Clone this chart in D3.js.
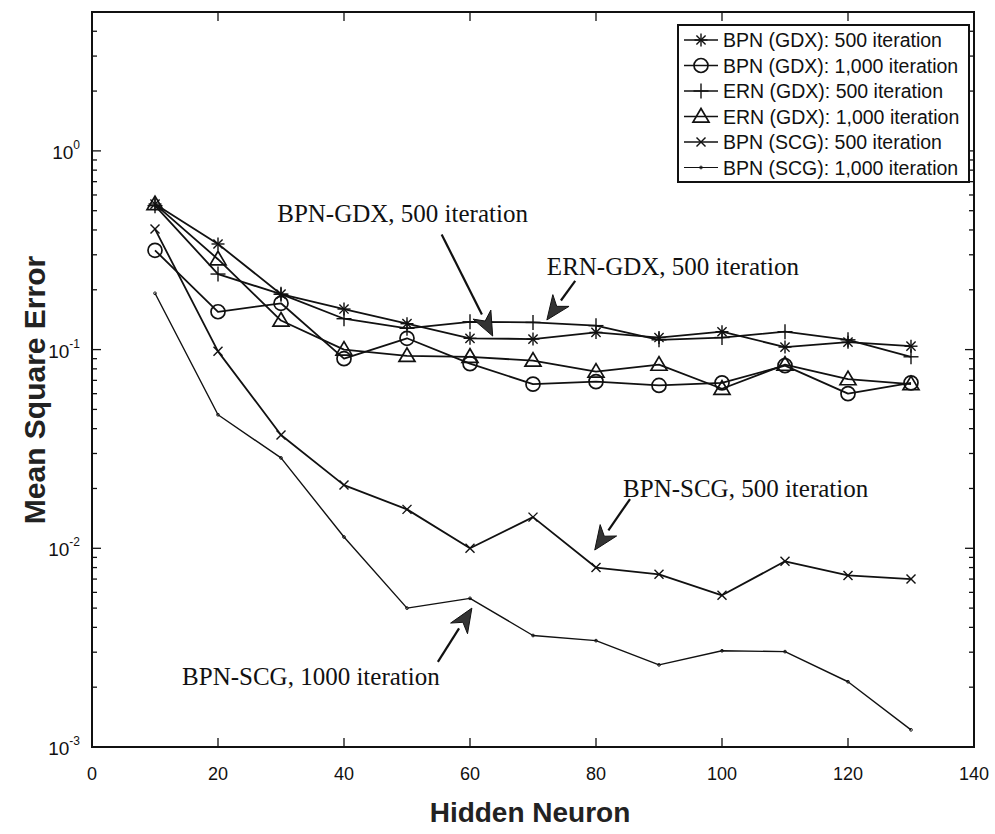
<!DOCTYPE html>
<html>
<head>
<meta charset="utf-8">
<script src="https://cdn.jsdelivr.net/npm/d3@7/dist/d3.min.js"></script>
<style>
  html, body { margin: 0; padding: 0; background: #fff; }
  svg { display: block; }
</style>
</head>
<body>
<svg id="chart" width="995" height="834"></svg>
<script>
// ---------------- data ----------------
const hiddenNeurons = [10, 20, 30, 40, 50, 60, 70, 80, 90, 100, 110, 120, 130];
const bpnGdx500  = [0.54, 0.34, 0.19, 0.16, 0.135, 0.114, 0.113, 0.122, 0.115, 0.123, 0.103, 0.109, 0.104];
const bpnGdx1000 = [0.316, 0.155, 0.171, 0.09, 0.114, 0.085, 0.067, 0.069, 0.066, 0.068, 0.083, 0.06, 0.068];
const ernGdx500  = [0.53, 0.24, 0.19, 0.143, 0.128, 0.138, 0.137, 0.132, 0.112, 0.115, 0.123, 0.112, 0.092];
const ernGdx1000 = [0.54, 0.285, 0.14, 0.1, 0.093, 0.092, 0.088, 0.0775, 0.084, 0.0635, 0.084, 0.071, 0.067];
const bpnScg500  = [0.404, 0.098, 0.0372, 0.0208, 0.0157, 0.0100, 0.01435, 0.0080, 0.0074, 0.0058, 0.0086, 0.0073, 0.0070];
const bpnScg1000 = [0.192, 0.047, 0.0285, 0.0114, 0.0050, 0.0056, 0.00364, 0.00343, 0.00259, 0.00305, 0.00302, 0.00213, 0.00122];

const seriesNames = [
  "BPN (GDX): 500 iteration",
  "BPN (GDX): 1,000 iteration",
  "ERN (GDX): 500 iteration",
  "ERN (GDX): 1,000 iteration",
  "BPN (SCG): 500 iteration",
  "BPN (SCG): 1,000 iteration"
];
const seriesMarkers = ["star", "circle", "plus", "triangle", "cross", "dot"];
const seriesValues = [bpnGdx500, bpnGdx1000, ernGdx500, ernGdx1000, bpnScg500, bpnScg1000];

const xTicks = [0, 20, 40, 60, 80, 100, 120, 140];
const yDecades = [-3, -2, -1, 0];
const xLabel = "Hidden Neuron";
const yLabel = "Mean Square Error";

// annotations: [text, textX, textY, arrowFromX, arrowFromY, arrowToX, arrowToY] in data units
const annotations = [
  ["BPN-GDX, 500 iteration", 29.4, 0.44, 55.5, 0.38, 63.6, 0.117],
  ["ERN-GDX, 500 iteration", 72.2, 0.238, 76.7, 0.222, 72.2, 0.141],
  ["BPN-SCG, 500 iteration", 84.3, 0.0182, 85.4, 0.0177, 79.8, 0.0098],
  ["BPN-SCG, 1000 iteration", 14.3, 0.00205, 54.9, 0.00268, 60.3, 0.0050]
];

// ---------------- layout ----------------
const L = 92, R = 974, T = 12, B = 747;
const svg = d3.select("#chart");
const x = d3.scaleLinear().domain([0, 140]).range([L, R]);
const y = d3.scaleLog().domain([1e-3, 5]).range([B, T]);

const ink = "#111";

// frame
svg.append("rect").attr("x", L).attr("y", T).attr("width", R - L).attr("height", B - T)
  .attr("fill", "none").attr("stroke", ink).attr("stroke-width", 2);

// x ticks (inward, top and bottom)
const gx = svg.append("g");
xTicks.forEach(t => {
  if (t > 0 && t < 140) {
    gx.append("line").attr("x1", x(t)).attr("x2", x(t)).attr("y1", B).attr("y2", B - 9).attr("stroke", ink).attr("stroke-width", 1.3);
    gx.append("line").attr("x1", x(t)).attr("x2", x(t)).attr("y1", T).attr("y2", T + 9).attr("stroke", ink).attr("stroke-width", 1.3);
  }
  gx.append("text").attr("x", x(t)).attr("y", B + 33)
    .attr("text-anchor", "middle").attr("font-family", "Arial, 'Liberation Sans', sans-serif")
    .attr("font-size", 18).attr("fill", ink).text(t);
});

// y ticks (log, inward, left and right)
const gy = svg.append("g");
const yTickVals = y.ticks();
yTickVals.forEach(v => {
  const lg = Math.log10(v);
  const major = Math.abs(lg - Math.round(lg)) < 1e-9;
  const len = major ? 9 : 5;
  gy.append("line").attr("x1", L).attr("x2", L + len).attr("y1", y(v)).attr("y2", y(v)).attr("stroke", ink).attr("stroke-width", 1.3);
  gy.append("line").attr("x1", R).attr("x2", R - len).attr("y1", y(v)).attr("y2", y(v)).attr("stroke", ink).attr("stroke-width", 1.3);
});
yDecades.forEach(d => {
  const t = gy.append("text").attr("x", 80).attr("y", y(Math.pow(10, d)) + 8)
    .attr("text-anchor", "end").attr("font-family", "Arial, 'Liberation Sans', sans-serif")
    .attr("font-size", 19).attr("fill", ink);
  t.append("tspan").text("10");
  t.append("tspan").attr("dy", -10).attr("font-size", 12).text(d === 0 ? "0" : "-" + Math.abs(d));
});

// axis titles
svg.append("text").attr("x", 530).attr("y", 822).attr("text-anchor", "middle")
  .attr("font-family", "Arial, 'Liberation Sans', sans-serif").attr("font-weight", "bold")
  .attr("font-size", 28).attr("fill", "#222").text(xLabel);
svg.append("text").attr("transform", "translate(45," + 390 + ") rotate(-90)").attr("text-anchor", "middle")
  .attr("font-family", "Arial, 'Liberation Sans', sans-serif").attr("font-weight", "bold")
  .attr("font-size", 30).attr("fill", "#222").text(yLabel);

// marker drawing
function drawMarker(g, type, cx, cy) {
  const s = ink;
  if (type === "star") {
    const r = 6.5;
    [0, 45, 90, 135].forEach(a => {
      const rad = a * Math.PI / 180;
      g.append("line").attr("x1", cx - r * Math.cos(rad)).attr("y1", cy - r * Math.sin(rad))
        .attr("x2", cx + r * Math.cos(rad)).attr("y2", cy + r * Math.sin(rad))
        .attr("stroke", s).attr("stroke-width", 1.4);
    });
  } else if (type === "circle") {
    g.append("circle").attr("cx", cx).attr("cy", cy).attr("r", 7).attr("fill", "none").attr("stroke", s).attr("stroke-width", 1.7);
  } else if (type === "plus") {
    const r = 7.5;
    g.append("line").attr("x1", cx - r).attr("x2", cx + r).attr("y1", cy).attr("y2", cy).attr("stroke", s).attr("stroke-width", 1.4);
    g.append("line").attr("x1", cx).attr("x2", cx).attr("y1", cy - r).attr("y2", cy + r).attr("stroke", s).attr("stroke-width", 1.4);
  } else if (type === "triangle") {
    const r = 8;
    g.append("path").attr("d", `M${cx},${cy - r}L${cx + r},${cy + r * 0.7}L${cx - r},${cy + r * 0.7}Z`)
      .attr("fill", "none").attr("stroke", s).attr("stroke-width", 1.7);
  } else if (type === "cross") {
    const r = 4.5;
    g.append("line").attr("x1", cx - r).attr("x2", cx + r).attr("y1", cy - r).attr("y2", cy + r).attr("stroke", s).attr("stroke-width", 1.4);
    g.append("line").attr("x1", cx - r).attr("x2", cx + r).attr("y1", cy + r).attr("y2", cy - r).attr("stroke", s).attr("stroke-width", 1.4);
  } else if (type === "dot") {
    g.append("circle").attr("cx", cx).attr("cy", cy).attr("r", 1.4).attr("fill", "none").attr("stroke", s).attr("stroke-width", 0.9);
  }
}

// series
const line = d3.line().x(d => x(d[0])).y(d => y(d[1]));
seriesValues.forEach((vals, i) => {
  const pts = hiddenNeurons.map((h, j) => [h, vals[j]]);
  const g = svg.append("g");
  g.append("path").attr("d", line(pts)).attr("fill", "none").attr("stroke", ink)
    .attr("stroke-width", i === 5 ? 1.4 : 1.8).attr("stroke-linejoin", "round");
  pts.forEach(p => drawMarker(g, seriesMarkers[i], x(p[0]), y(p[1])));
});

// annotations
annotations.forEach(a => {
  const [txt, tx, ty, fx, fy, ax, ay] = a;
  svg.append("text").attr("x", x(tx)).attr("y", y(ty))
    .attr("font-family", "'Liberation Serif', 'Times New Roman', serif")
    .attr("font-size", 25).attr("fill", ink).text(txt);
  const x1 = x(fx), y1 = y(fy), x2 = x(ax), y2 = y(ay);
  const ang = Math.atan2(y2 - y1, x2 - x1);
  const hl = 24, hw = 10;
  const bx = x2 - hl * Math.cos(ang), by = y2 - hl * Math.sin(ang);
  svg.append("line").attr("x1", x1).attr("y1", y1).attr("x2", bx).attr("y2", by)
    .attr("stroke", ink).attr("stroke-width", 2.2);
  const px = -Math.sin(ang), py = Math.cos(ang);
  svg.append("path")
    .attr("d", `M${x2},${y2}L${bx + hw * px},${by + hw * py}L${bx + 0.3 * hl * Math.cos(ang)},${by + 0.3 * hl * Math.sin(ang)}L${bx - hw * px},${by - hw * py}Z`)
    .attr("fill", "#333").attr("stroke", ink).attr("stroke-width", 1);
});

// legend
const legX = 678, legY = 25, legW = 291, legH = 157, rowH = 25.5;
svg.append("rect").attr("x", legX).attr("y", legY).attr("width", legW).attr("height", legH)
  .attr("fill", "#fff").attr("stroke", ink).attr("stroke-width", 2);
seriesNames.forEach((name, i) => {
  const cy = legY + 15 + i * rowH;
  const g = svg.append("g");
  g.append("line").attr("x1", legX + 6).attr("x2", legX + 40).attr("y1", cy).attr("y2", cy)
    .attr("stroke", ink).attr("stroke-width", i === 5 ? 1.2 : 1.5);
  drawMarker(g, seriesMarkers[i], legX + 23, cy);
  g.append("text").attr("x", legX + 45).attr("y", cy + 7)
    .attr("font-family", "Arial, 'Liberation Sans', sans-serif").attr("font-size", 19.5)
    .attr("fill", ink).text(name);
});
</script>
</body>
</html>
